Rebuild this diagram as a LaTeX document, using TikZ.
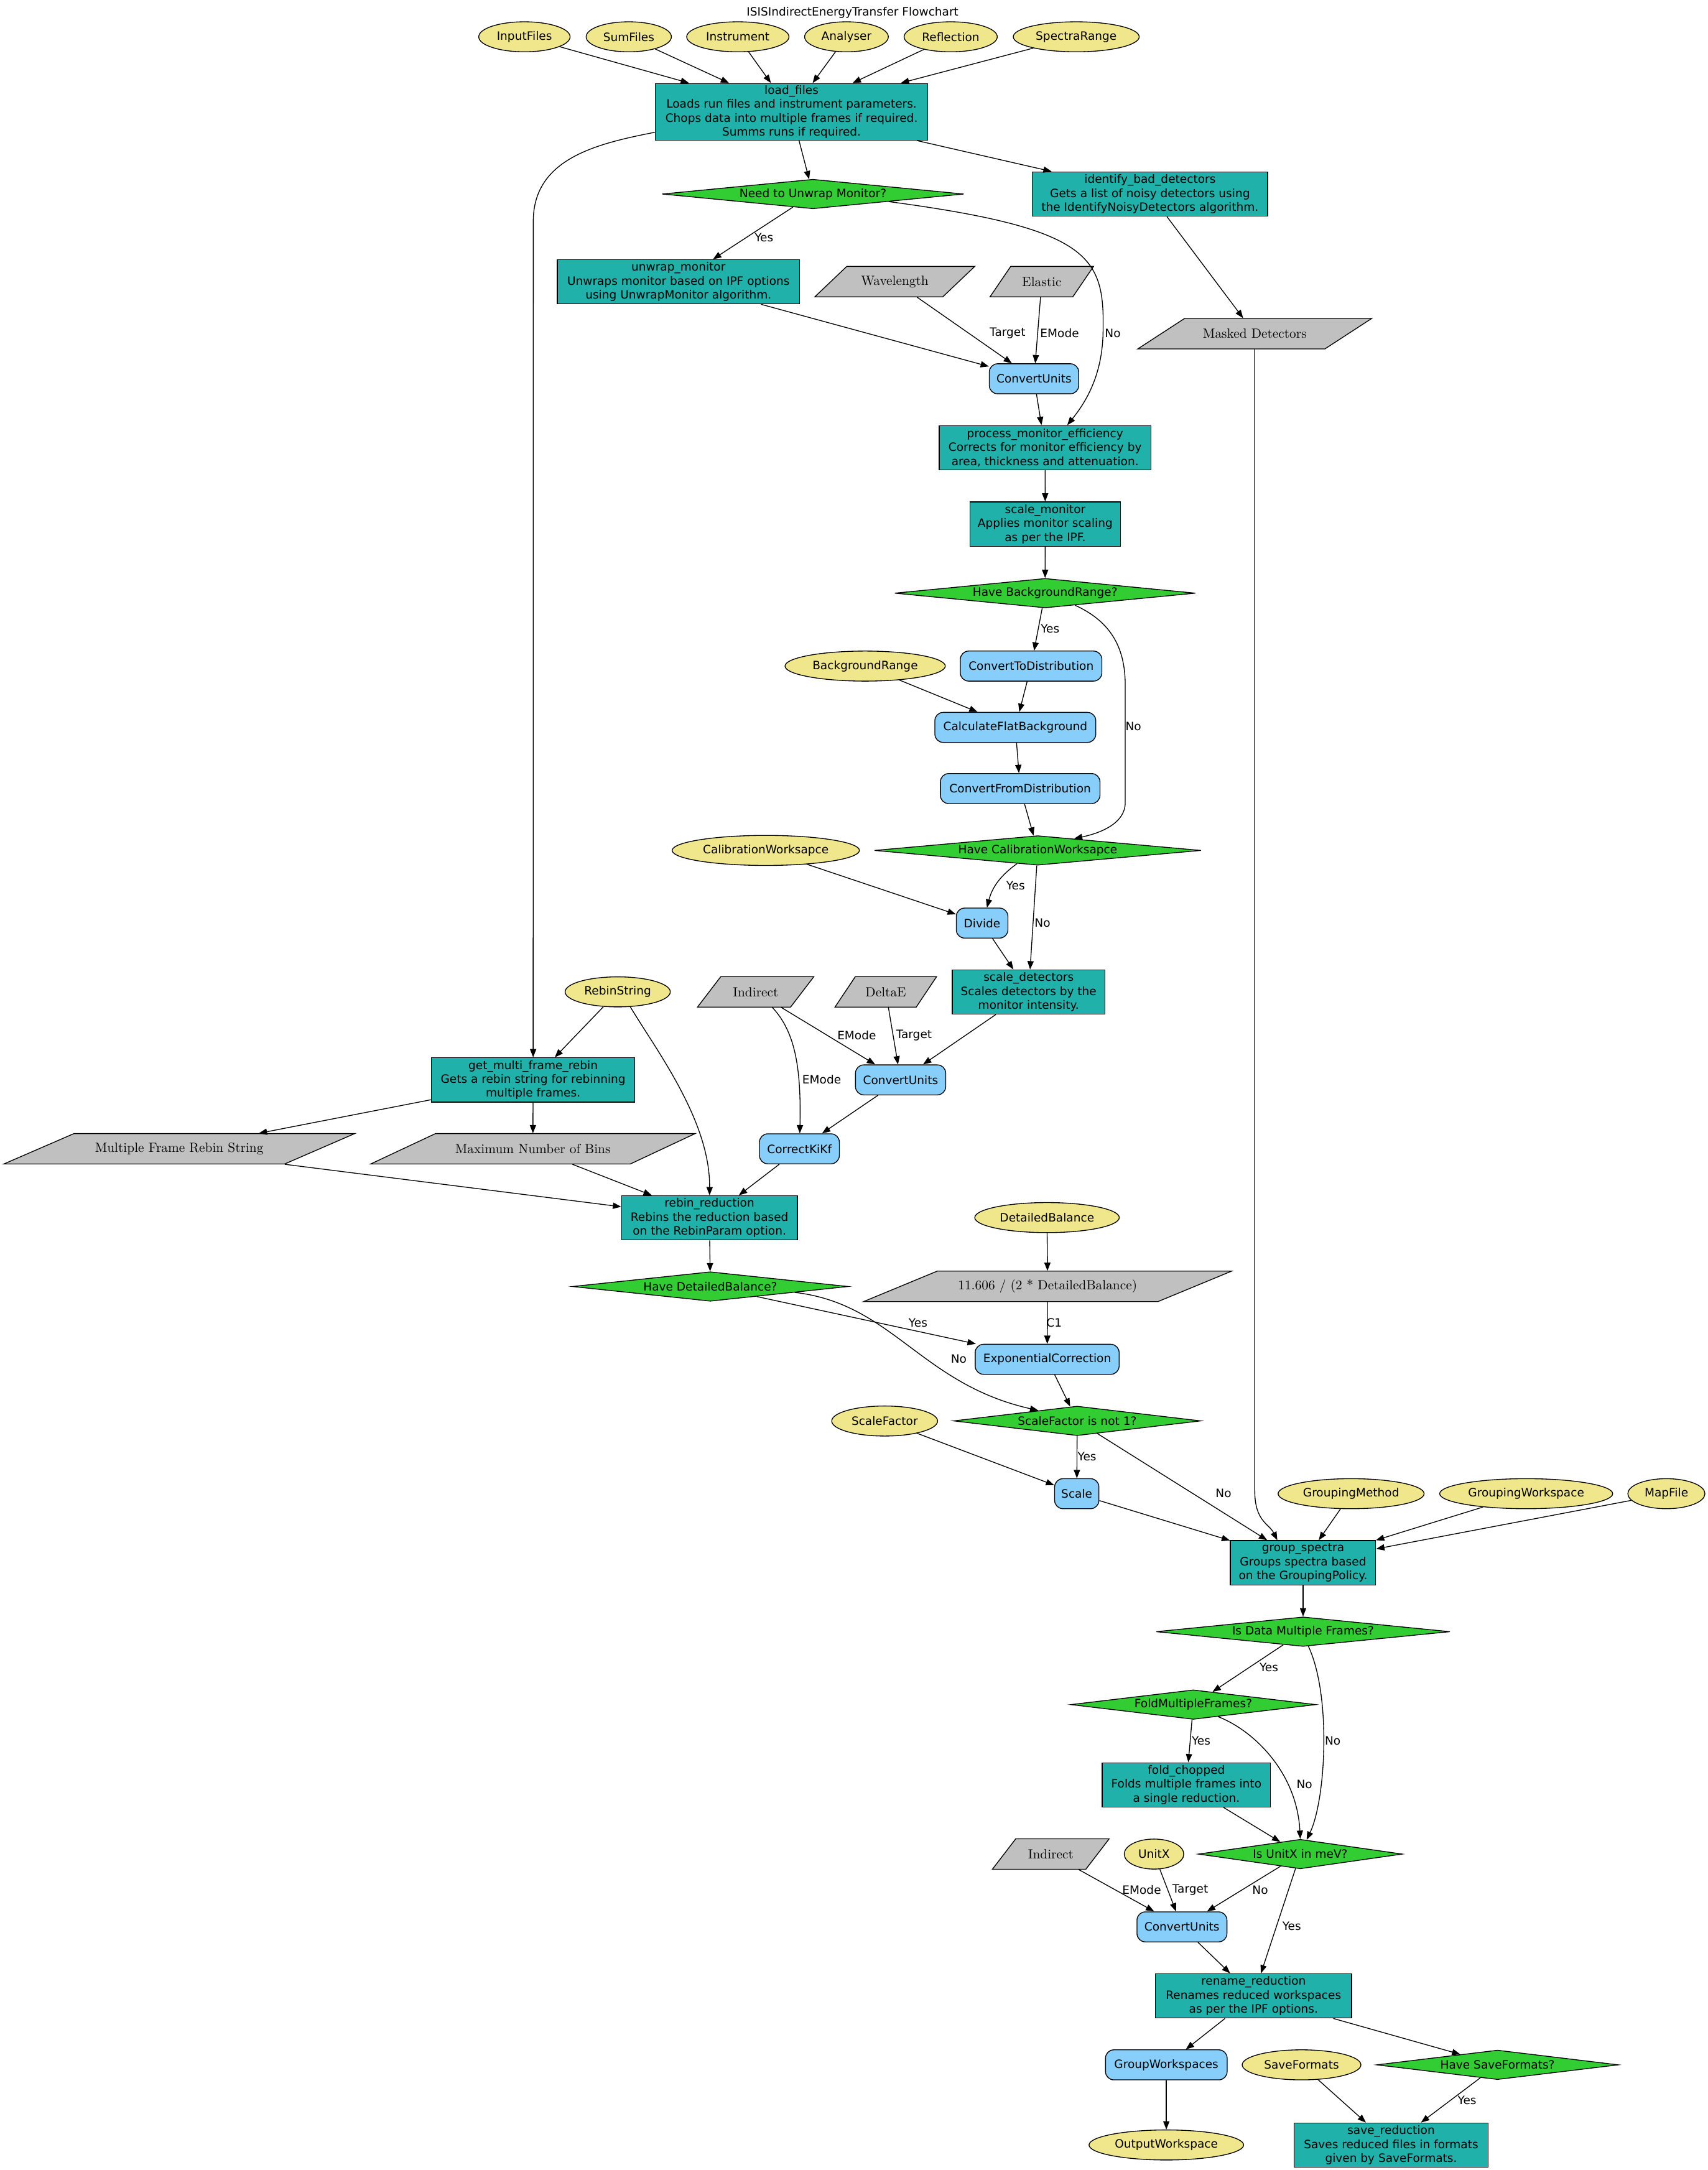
\documentclass[tikz,border=0pt]{standalone}
\usepackage{fontspec}
\newfontfamily\dvsans{DejaVu Sans}
\usetikzlibrary{shapes.geometric,arrows.meta}

\definecolor{procteal}{HTML}{20B2AA}
\definecolor{decgreen}{HTML}{32CD32}
\definecolor{algblue}{HTML}{87CEFA}
\definecolor{inpkhaki}{HTML}{F0E68C}
\definecolor{datagray}{HTML}{C0C0C0}

\tikzset{
  every node/.style={font=\dvsans\fontsize{8.33}{10}\selectfont},
  proc/.style={draw, fill=procteal, align=center, line width=0.6pt, inner xsep=2pt, inner ysep=1pt, minimum width=#1, minimum height=32},
  alg/.style={draw, fill=algblue, rounded corners=6pt, line width=0.6pt, inner sep=1pt, minimum width=#1, minimum height=21.7},
  inp/.style={ellipse, draw, fill=inpkhaki, line width=0.6pt, inner sep=0pt, minimum width=#1, minimum height=21.7},
  dec/.style={diamond, draw, fill=decgreen, line width=0.6pt, inner sep=0pt, minimum width=#1, minimum height=21.3},
  datatext/.style={inner sep=0pt, minimum height=22, font=\rmfamily\fontsize{9.6}{11}\selectfont},
  datashape/.style={fill=datagray, draw, line width=0.6pt},
  lbl/.style={inner sep=0pt},
  arr/.style={-{Triangle[length=6pt,width=4.5pt]}, line width=0.6pt}
}

% parallelogram: name, x, y, width, text
\newcommand\paranode[5]{%
  \filldraw[datashape] (#2-#4/2,#3+11) -- (#2+#4/2-#4/5,#3+11) -- (#2+#4/2,#3-11) -- (#2-#4/2+#4/5,#3-11) -- cycle;
  \node[datatext, minimum width=#4] (#1) at (#2,#3) {#5};
}

\begin{document}
\begin{tikzpicture}[x=1pt,y=-1pt]
\useasboundingbox (0,0) rectangle (1234,1568);

\node (title) at (616,9) {ISISIndirectEnergyTransfer Flowchart};

% inputs
\node[inp=66] (inf) at (378.9,26.6) {InputFiles};
\node[inp=61.6] (smf) at (454.3,26.6) {SumFiles};
\node[inp=73.9] (ins) at (533.1,26.6) {Instrument};
\node[inp=60.5] (ana) at (611.6,26.6) {Analyser};
\node[inp=67.3] (rfl) at (686.9,26.6) {Reflection};
\node[inp=91] (spr) at (777.6,26.6) {SpectraRange};

\node[proc=197, minimum height=41] (lf) at (571.9,80.8) {load\_files\\Loads run files and instrument parameters.\\Chops data into multiple frames if required.\\Summs runs if required.};

% monitor
\node[dec=218, aspect=10.2] (nuw) at (587.4,140.2) {Need to Unwrap Monitor?};
\node[proc=170] (ibd) at (830.9,140.2) {identify\_bad\_detectors\\Gets a list of noisy detectors using\\the IdentifyNoisyDetectors algorithm.};
\node[proc=175] (um) at (490.2,203.6) {unwrap\_monitor\\Unwraps monitor based on IPF options\\using UnwrapMonitor algorithm.};
\paranode{wl}{646.5}{203.5}{115.6}{Wavelength}
\paranode{el}{752.7}{203.5}{74.8}{Elastic}
\paranode{md}{906.6}{241.1}{169}{Masked Detectors}
\node[alg=64.6] (cu1) at (747.1,273.7) {ConvertUnits};
\node[proc=153] (pme) at (755.1,323.5) {process\_monitor\_efficiency\\Corrects for monitor efficiency by\\area, thickness and attenuation.};
\node[proc=109] (sm) at (755.2,378.7) {scale\_monitor\\Applies monitor scaling\\as per the IPF.};

% background
\node[dec=217.4, aspect=10.2] (hbr) at (755.1,428.6) {Have BackgroundRange?};
\node[inp=115.8] (bgr) at (625.1,481.3) {BackgroundRange};
\node[alg=102.3] (c2d) at (745,481.3) {ConvertToDistribution};
\node[alg=116.3] (cfb) at (733.6,525.6) {CalculateFlatBackground};
\node[alg=115.3] (cfd) at (737.1,569.8) {ConvertFromDistribution};

% calibration
\node[inp=135.3] (cws) at (553.3,614.5) {CalibrationWorksapce};
\node[dec=236, aspect=11.1] (hcw) at (749.8,614.5) {Have CalibrationWorksapce};
\node[alg=37.3] (dv) at (709.6,667) {Divide};
\node[proc=110.4] (sd) at (743.2,716.8) {scale\_detectors\\Scales detectors by the\\monitor intensity.};

% rebin
\node[inp=76] (rbs) at (446.3,716.7) {RebinString};
\paranode{in1}{546}{716.7}{84.1}{Indirect}
\paranode{de}{640}{716.7}{73.4}{DeltaE}
\node[alg=65.2] (cu2) at (650.7,780.3) {ConvertUnits};
\node[proc=147] (gmf) at (385.2,780.3) {get\_multi\_frame\_rebin\\Gets a rebin string for rebinning\\multiple frames.};
\paranode{mfr}{129.5}{830.1}{253.6}{Multiple Frame Rebin String}
\paranode{mnb}{385}{830.1}{234.5}{Maximum Number of Bins}
\node[alg=57.7] (ckf) at (577.6,830.1) {CorrectKiKf};
\node[proc=127] (rr) at (512.6,880) {rebin\_reduction\\Rebins the reduction based\\on the RebinParam option.};

% detailed balance, scale
\node[dec=199.3, aspect=9.4] (hdb) at (513.2,929.6) {Have DetailedBalance?};
\node[inp=104.4] (db) at (756.5,879.8) {DetailedBalance};
\paranode{c1}{756.9}{929.5}{265.9}{11.606 / (2 * DetailedBalance)}
\node[alg=104] (ec) at (756.6,982.2) {ExponentialCorrection};
\node[dec=178.7, aspect=8.4] (sfd) at (778.3,1026.7) {ScaleFactor is not 1?};
\node[inp=76.5] (sf) at (639.2,1026.8) {ScaleFactor};
\node[alg=32] (sc) at (778,1079.3) {Scale};

% grouping
\node[inp=105.5] (gm) at (976.2,1079.3) {GroupingMethod};
\node[inp=125] (gw) at (1102.7,1079.3) {GroupingWorkspace};
\node[inp=55.7] (mf) at (1204,1079.3) {MapFile};
\node[proc=105] (gs) at (941.5,1129.2) {group\_spectra\\Groups spectra based\\on the GroupingPolicy.};
\node[dec=212.4, aspect=10] (idm) at (941.5,1179) {Is Data Multiple Frames?};
\node[dec=177.1, aspect=8.3] (fmf) at (862.2,1231.7) {FoldMultipleFrames?};
\node[proc=121.7] (fc) at (857.2,1289.7) {fold\_chopped\\Folds multiple frames into\\a single reduction.};

% units, output
\paranode{in2}{759.2}{1339.7}{84.4}{Indirect}
\node[inp=43] (ux) at (833.8,1339.7) {UnitX};
\node[dec=147.5, aspect=6.9] (uxd) at (939.5,1339.7) {Is UnitX in meV?};
\node[alg=65] (cu3) at (854,1392.3) {ConvertUnits};
\node[proc=141.7] (ren) at (905.7,1442.2) {rename\_reduction\\Renames reduced workspaces\\as per the IPF options.};
\node[alg=87.9] (gws) at (842.7,1492) {GroupWorkspaces};
\node[inp=85.8] (sfm) at (940.4,1492) {SaveFormats};
\node[dec=174.7, aspect=8.2] (hsf) at (1082,1492) {Have SaveFormats?};
\node[inp=111.7] (ow) at (842.7,1549.9) {OutputWorkspace};
\node[proc=140.3] (sr) at (1005.1,1550) {save\_reduction\\Saves reduced files in formats\\given by SaveFormats.};

% connectors
\draw[arr] (inf) -- (lf);
\draw[arr] (smf) -- (lf);
\draw[arr] (ins) -- (lf);
\draw[arr] (ana) -- (lf);
\draw[arr] (rfl) -- (lf);
\draw[arr] (spr) -- (lf);
\draw[arr] (lf) -- (nuw);
\draw[arr] (lf) -- (ibd);
\draw[arr] ([yshift=6pt]lf.south west) .. controls (430,104) and (385.3,115) .. (385.3,160) -- (gmf);

\draw[arr] (nuw) -- (um);
\node[lbl] (yes1) at (552,171.7) {Yes};
\draw[arr] (nuw.south east) .. controls (787,165) and (798,185) .. (797,238) .. controls (797,270) and (785,290) .. ([xshift=16pt]pme.north);
\node[lbl] (no1) at (804,240.8) {No};
\draw[arr] (um) -- (cu1);
\draw[arr] (wl) -- (cu1);
\node[lbl] (tg1) at (728,240.8) {Target};
\draw[arr] (el) -- (cu1);
\node[lbl] (em1) at (765.6,240.8) {EMode};
\draw[arr] (cu1) -- (pme);
\draw[arr] (ibd) -- (md);
\draw[arr] (md.south) -- ++(0,825) .. controls +(0,22) and +(-6,-12) .. ([xshift=-18.6pt]gs.north);

\draw[arr] (pme) -- (sm);
\draw[arr] (sm) -- (hbr);
\draw[arr] (hbr) -- (c2d);
\node[lbl] (yes2) at (758.7,454.3) {Yes};
\draw[arr] (hbr.-22) .. controls (800,448) and (813,465) .. (813,495) -- (813,580) .. controls (813,595) and (795,602) .. (hcw.18);
\node[lbl] (no2) at (818.9,524.9) {No};
\draw[arr] (bgr) -- (cfb);
\draw[arr] (c2d) -- (cfb);
\draw[arr] (cfb) -- (cfd);
\draw[arr] (cfd) -- (hcw);

\draw[arr] (cws) -- (dv);
\draw[arr] (hcw) to[bend right=20] (dv);
\node[lbl] (yes3) at (733.8,640) {Yes};
\draw[arr] (hcw) -- (sd);
\node[lbl] (no3) at (753.2,666.7) {No};
\draw[arr] (dv) -- (sd);

\draw[arr] (sd) -- (cu2);
\draw[arr] (in1) -- (cu2);
\node[lbl] (em2) at (619,748) {EMode};
\draw[arr] (de) -- (cu2);
\node[lbl] (tg2) at (660.4,748) {Target};
\draw[arr] ([xshift=12pt]in1.south) .. controls (574,745) and (579,770) .. (ckf);
\node[lbl] (em3) at (593.7,780) {EMode};
\draw[arr] (cu2) -- (ckf);
\draw[arr] (rbs) -- (gmf);
\draw[arr] (rbs.-50) .. controls (475,760) and (513,810) .. (rr);
\draw[arr] (gmf) -- (mfr);
\draw[arr] (gmf) -- (mnb);
\draw[arr] ([xshift=-50.7pt]mfr.south east) -- (rr);
\draw[arr] (mnb) -- (rr);
\draw[arr] (ckf) -- (rr);

\draw[arr] (rr) -- (hdb);
\draw[arr] (hdb) -- (ec);
\node[lbl] (yes4) at (663.3,955.7) {Yes};
\draw[arr] (hdb.-4) .. controls (645,942) and (665,1000) .. (sfd.165);
\node[lbl] (no4) at (692.7,981.7) {No};
\draw[arr] (db) -- (c1);
\draw[arr] (c1) -- (ec);
\node[lbl] (c1l) at (761.6,955.7) {C1};
\draw[arr] (ec) -- (sfd);
\draw[arr] (sfd) -- (sc);
\node[lbl] (yes5) at (785.4,1052.6) {Yes};
\draw[arr] (sfd) -- (gs);
\node[lbl] (no5) at (884,1078.9) {No};
\draw[arr] (sf) -- (sc);
\draw[arr] (sc) -- (gs);

\draw[arr] (gm) -- (gs);
\draw[arr] (gw) -- (gs);
\draw[arr] (mf) -- (gs);
\draw[arr] (gs) -- (idm);
\draw[arr] (idm) -- (fmf);
\node[lbl] (yes6) at (916.8,1204.8) {Yes};
\draw[arr] (idm.-70) .. controls (962,1225) and (958,1300) .. (uxd.66);
\node[lbl] (no6) at (962.9,1257.8) {No};
\draw[arr] (fmf) -- (fc);
\node[lbl] (yes7) at (867.8,1257.8) {Yes};
\draw[arr] (fmf.-26) .. controls (905,1250) and (937,1280) .. (uxd.north);
\node[lbl] (no7) at (942.5,1289.4) {No};
\draw[arr] (fc) -- (uxd);

\draw[arr] (in2) -- (cu3);
\node[lbl] (em4) at (824.9,1365.6) {EMode};
\draw[arr] (ux) -- (cu3);
\node[lbl] (tg3) at (860,1365.6) {Target};
\draw[arr] (uxd) -- (cu3);
\node[lbl] (no8) at (910.5,1365.6) {No};
\draw[arr] (uxd) -- (ren);
\node[lbl] (yes8) at (933.3,1391.6) {Yes};
\draw[arr] (cu3) -- (ren);
\draw[arr] (ren) -- (gws);
\draw[arr] (ren) -- (hsf);
\draw[arr] (gws) -- (ow);
\draw[arr] (sfm) -- (sr);
\draw[arr] (hsf) -- (sr);
\node[lbl] (yes9) at (1060,1517.7) {Yes};

\end{tikzpicture}
\end{document}
